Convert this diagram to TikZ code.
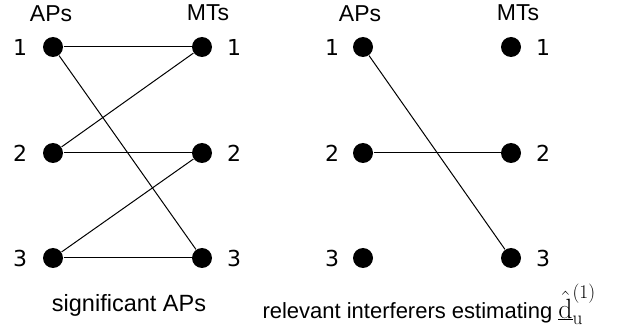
\documentclass[tikz,border=0pt]{standalone}
\usepackage[no-math]{fontspec}
\setmainfont{Liberation Sans}
\newfontfamily\numfont{DejaVu Sans}
\begin{document}
\begin{tikzpicture}[x=1pt, y=-1pt, line width=1pt,
  dot/.style={circle, fill=black, inner sep=0pt, minimum size=20pt},
  num/.style={font=\numfont\fontsize{22}{26}\selectfont},
  head/.style={font=\fontsize{23}{27}\selectfont},
  capt/.style={font=\fontsize{22}{26}\selectfont, anchor=base}]
\useasboundingbox (0,0) rectangle (638,334);

\foreach \i/\y in {1/47, 2/153, 3/258}
{
   \node[dot] (a\i) at (53,\y) {};  \node[num] at (20,\y) {\i};
   \node[dot] (m\i) at (202,\y) {}; \node[num] at (234,\y) {\i};
   \node[dot] (b\i) at (363,\y) {}; \node[num] at (332,\y) {\i};
   \node[dot] (n\i) at (511,\y) {}; \node[num] at (543,\y) {\i};
}
\node[head] at (51,14) {APs};\node[head] at (208,13) {MTs};
\node[head] at (360,14) {APs};\node[head] at (518,13) {MTs};

\draw (a1)--(m1); \draw (a1)--(m3);
\draw (a2)--(m1); \draw (a2)--(m2);
\draw (a3)--(m2); \draw (a3)--(m3);

\draw (b1)--(n3); \draw (b2)--(n2);

\node[capt, font=\fontsize{23.5}{27}\selectfont] (sig) at (129,312) {significant APs};
\node[capt, anchor=base west, inner sep=0pt] (rel) at (262,318) {relevant interferers estimating {\fontsize{24}{28}\selectfont\scalebox{1.12}{$\hat{\underline{\mathrm{d}}}_{\mathrm{u}}^{(1)}$}}};

\end{tikzpicture}
\end{document}
